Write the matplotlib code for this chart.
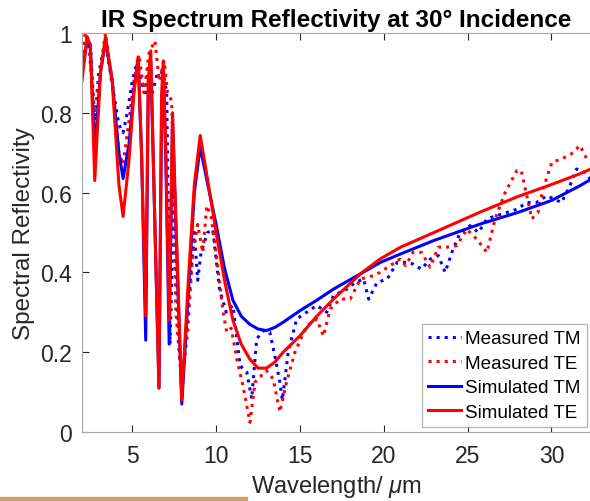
import matplotlib
matplotlib.use("Agg")
import matplotlib.pyplot as plt
from matplotlib.patches import Rectangle

plt.rcParams["font.family"] = ["Liberation Sans", "DejaVu Sans"]
plt.rcParams["mathtext.fontset"] = "custom"
plt.rcParams["mathtext.it"] = "Liberation Sans:italic"

# simulated curves (wavelength in um, reflectivity)
sim_tm_x = [2.0, 2.3, 2.5, 2.76, 3.1, 3.4, 3.8, 4.2, 4.45, 4.8, 5.1, 5.35, 5.55, 5.8, 5.95, 6.1, 6.3,
            6.59, 6.75, 6.85, 7.0, 7.2, 7.4, 7.55, 7.95, 8.3, 8.7, 9.05, 9.5, 10.0, 10.5, 11.0, 11.5,
            12.0, 12.5, 13.0, 13.5, 14.0, 15.0, 16.0, 17.0, 18.6, 19.8, 21.0, 23.0, 25.75, 28.0, 30.0,
            31.7, 32.4]
sim_tm_y = [0.90, 0.98, 0.96, 0.70, 0.90, 0.98, 0.88, 0.70, 0.635, 0.72, 0.86, 0.93, 0.70, 0.23, 0.85,
            0.93, 0.60, 0.11, 0.82, 0.90, 0.68, 0.22, 0.78, 0.58, 0.07, 0.32, 0.60, 0.715, 0.62, 0.52,
            0.41, 0.33, 0.29, 0.27, 0.258, 0.254, 0.262, 0.275, 0.304, 0.33, 0.358, 0.396, 0.425, 0.446,
            0.48, 0.521, 0.55, 0.58, 0.617, 0.634]
sim_te_x = sim_tm_x
sim_te_y = [0.88, 0.99, 0.97, 0.63, 0.90, 0.99, 0.88, 0.62, 0.54, 0.68, 0.85, 0.94, 0.70, 0.29, 0.88,
            0.955, 0.60, 0.11, 0.85, 0.93, 0.70, 0.28, 0.80, 0.60, 0.08, 0.35, 0.62, 0.743, 0.63, 0.50,
            0.38, 0.28, 0.22, 0.183, 0.16, 0.16, 0.175, 0.20, 0.241, 0.29, 0.333, 0.396, 0.434, 0.463,
            0.50, 0.551, 0.59, 0.62, 0.647, 0.66]

# measured curves
meas_tm_x = [2.0, 2.3, 2.5, 2.75, 3.0, 3.4, 3.8, 4.2, 4.45, 4.7, 5.0, 5.3, 5.5, 5.8, 6.0, 6.2, 6.5,
             6.85, 7.05, 7.25, 7.5, 7.7, 7.95, 8.3, 8.7, 8.9, 9.1, 9.5, 9.8, 10.2, 10.6, 11.0, 11.43,
             11.83, 12.12, 12.42, 12.8, 13.2, 13.5, 13.8, 13.95, 14.3, 14.8, 15.4, 16.0, 16.6, 17.0,
             17.8, 18.3, 18.8, 19.1, 19.6, 20.2, 20.8, 21.55, 22.25, 22.76, 23.25, 23.66, 24.06,
             24.56, 25.15, 25.65, 26.15, 26.74, 27.34, 27.94, 28.53, 29.1, 29.73, 30.6, 31.1, 31.5,
             32.0, 32.4]
meas_tm_y = [0.93, 0.99, 0.97, 0.78, 0.90, 0.98, 0.87, 0.77, 0.75, 0.80, 0.88, 0.93, 0.88, 0.85, 0.93,
             0.85, 0.90, 0.90, 0.85, 0.22, 0.60, 0.30, 0.10, 0.30, 0.50, 0.38, 0.45, 0.50, 0.508, 0.358,
             0.30, 0.317, 0.166, 0.15, 0.083, 0.233, 0.254, 0.25, 0.191, 0.125, 0.08, 0.20, 0.283,
             0.30, 0.317, 0.30, 0.342, 0.358, 0.375, 0.383, 0.333, 0.375, 0.383, 0.425, 0.425, 0.408,
             0.433, 0.442, 0.40, 0.45, 0.50, 0.517, 0.50, 0.534, 0.542, 0.55, 0.558, 0.575, 0.575,
             0.592, 0.575, 0.617, 0.659, 0.65, 0.63]
meas_te_x = [2.0, 2.2, 2.4, 2.75, 3.0, 3.4, 3.8, 4.2, 4.45, 4.8, 5.1, 5.4, 5.7, 6.0, 6.35, 6.6, 6.9,
             7.1, 7.35, 7.6, 7.95, 8.3, 8.6, 8.9, 9.2, 9.44, 9.7, 9.93, 10.42, 10.63, 10.9, 11.23, 11.6,
             12.02, 12.32, 12.6, 13.0, 13.4, 13.8, 14.2, 14.7, 15.4, 16.0, 16.4, 16.8, 17.4, 18.0,
             18.6, 19.4, 19.78, 20.38, 20.97, 21.3, 21.75, 22.25, 22.76, 23.25, 23.75, 24.36, 24.95,
             25.55, 26.15, 26.64, 27.24, 27.94, 28.2, 28.53, 28.83, 29.2, 29.5, 30.03, 30.6, 31.2,
             31.7, 32.2]
meas_te_y = [0.95, 1.0, 0.97, 0.80, 0.88, 1.0, 0.88, 0.70, 0.67, 0.78, 0.88, 0.945, 0.85, 0.95, 0.98,
             0.88, 0.93, 0.85, 0.83, 0.30, 0.12, 0.25, 0.45, 0.52, 0.45, 0.567, 0.54, 0.467, 0.30,
             0.25, 0.26, 0.183, 0.116, 0.024, 0.125, 0.137, 0.154, 0.133, 0.05, 0.125, 0.20, 0.266,
             0.283, 0.24, 0.308, 0.333, 0.333, 0.383, 0.392, 0.40, 0.417, 0.433, 0.417, 0.45, 0.45,
             0.413, 0.463, 0.463, 0.467, 0.508, 0.483, 0.45, 0.534, 0.60, 0.655, 0.655, 0.592, 0.534,
             0.55, 0.609, 0.676, 0.684, 0.697, 0.718, 0.676]

fig = plt.figure(figsize=(5.9, 5.02), dpi=100)
ax = fig.add_axes([0.139, 0.1375, 0.861, 0.795])

ax.plot(meas_tm_x, meas_tm_y, ":", color="blue", linewidth=2.2, label="Measured TM")
ax.plot(meas_te_x, meas_te_y, ":", color="red", linewidth=2.2, label="Measured TE")
ax.plot(sim_tm_x, sim_tm_y, "-", color="blue", linewidth=2.2, label="Simulated TM")
ax.plot(sim_te_x, sim_te_y, "-", color="red", linewidth=2.2, label="Simulated TE")

ax.set_xlim(2, 32.3)
ax.set_ylim(0, 1)
ax.set_xticks([5, 10, 15, 20, 25, 30])
ax.set_yticks([0, 0.2, 0.4, 0.6, 0.8, 1])
ax.set_yticklabels(["0", "0.2", "0.4", "0.6", "0.8", "1"])
ax.tick_params(direction="in", top=True, labelsize=16.5, colors="#262626", length=5)
ax.tick_params(axis="x", pad=9)
ax.tick_params(axis="y", pad=7)
for side in ["left", "top", "bottom"]:
    ax.spines[side].set_color("#a6a6a6")
ax.spines["right"].set_visible(False)

ax.set_xlabel("Wavelength/ $\\mu$m", fontsize=17, color="#262626", labelpad=4)
ax.set_ylabel("Spectral Reflectivity", fontsize=17.5, color="#262626", labelpad=4)
ax.set_title("IR Spectrum Reflectivity at 30° Incidence", fontsize=17.5, fontweight="bold", pad=5)

ax.legend(loc="lower left", bbox_to_anchor=(0.669, 0.012), fontsize=13.6, frameon=True,
          fancybox=False, edgecolor="#a6a6a6", handlelength=1.7, handletextpad=0.25,
          labelspacing=0.38, borderpad=0.35, borderaxespad=0)

fig.patches.append(Rectangle((0, 0), 247 / 590, 4 / 502, transform=fig.transFigure,
                             color="#d3a06a", zorder=0))

fig.savefig("out.png", dpi=100)
